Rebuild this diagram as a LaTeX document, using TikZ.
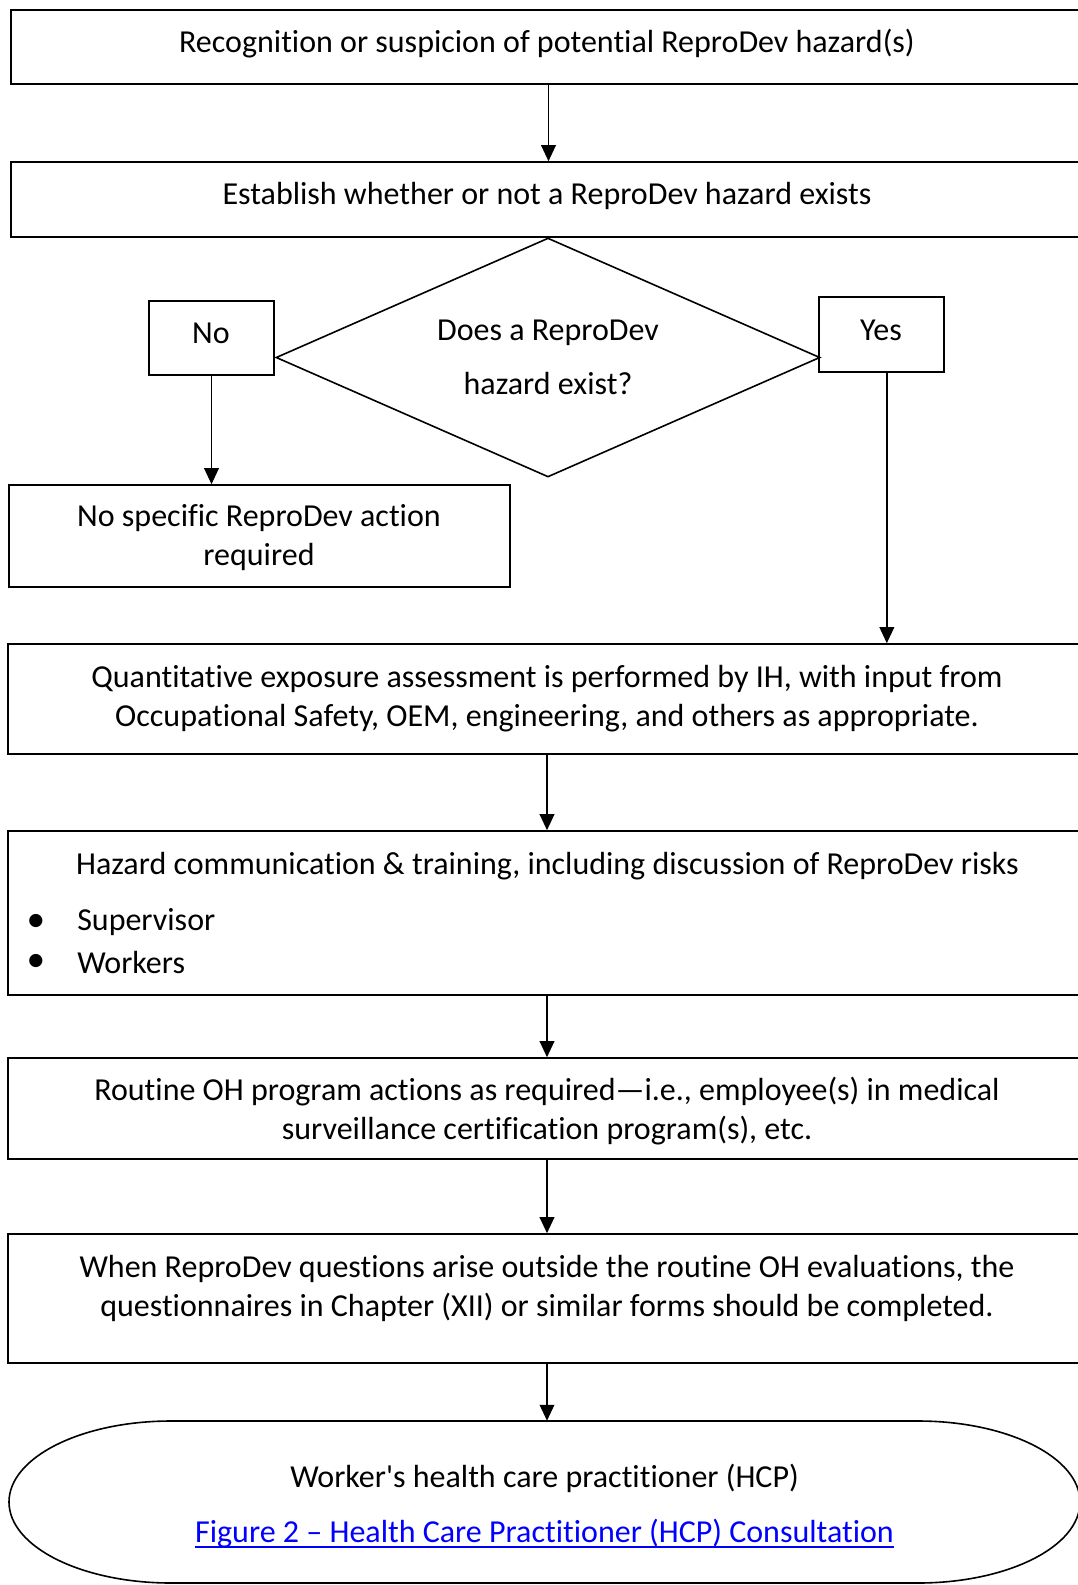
\documentclass[tikz,border=0pt]{standalone}
\usepackage{fontspec}
\setmainfont{Carlito}[Ligatures=NoCommon]
\usepackage{xcolor}
\usetikzlibrary{arrows.meta}
\usetikzlibrary{shapes.geometric}
\definecolor{linkblue}{RGB}{0,0,255}
\newcommand{\flowfont}{\fontsize{24}{29.25}\selectfont}
\newsavebox{\linkbox}
\newcommand{\linkline}[1]{\sbox{\linkbox}{#1}\rlap{\rule[-4.5pt]{\wd\linkbox}{2pt}}\usebox{\linkbox}}

\begin{document}
\begin{tikzpicture}[x=0.75pt, y=-0.75pt,
  frame/.style={draw, line width=1.2pt, inner sep=0pt},
  txt/.style={font=\flowfont, align=center, inner sep=0pt},
  flow/.style={-{Triangle[length=12pt,width=11pt]}, line width=1.1pt}]
\useasboundingbox (0,0) rectangle (1078,1585);
\clip (0,0) rectangle (1078,1585);

% frames
\node[frame, minimum width=806.25pt, minimum height=55.5pt] (recog) at (548.5,47) {};
\node[frame, minimum width=806.25pt, minimum height=56.25pt] (estab) at (548.5,199.5) {};
\node[frame, diamond, aspect=2.28, minimum width=408pt, minimum height=179.25pt, font=\flowfont, align=center]
  (q) at (548,357.5) {Does a ReproDev\\[11.25pt]hazard exist?};
\node[frame, minimum width=93.75pt, minimum height=55.5pt] (no) at (211.5,338) {};
\node[frame, minimum width=93.75pt, minimum height=56.25pt] (yes) at (881.5,334.5) {};
\node[frame, minimum width=375.75pt, minimum height=76.5pt] (noact) at (259.5,536) {};
\node[frame, minimum width=808.5pt, minimum height=82.5pt] (quant) at (547,699) {};
\node[frame, minimum width=808.5pt, minimum height=123pt] (comm) at (547,913) {};
\node[frame, minimum width=808.5pt, minimum height=75.75pt] (routine) at (547,1108.5) {};
\node[frame, minimum width=808.5pt, minimum height=96.75pt] (when) at (547,1298.5) {};
\node[minimum width=803.25pt, minimum height=121.5pt, inner sep=0pt] (hcp) at (544.5,1502) {};
\draw[line width=1.2pt] (171,1421) -- (918,1421)
  arc[start angle=90, end angle=-90, x radius=121.5pt, y radius=60.75pt] -- (171,1583)
  arc[start angle=270, end angle=90, x radius=121.5pt, y radius=60.75pt] -- cycle;

% texts
\node[txt] (recog-t) at (547,44) {Recognition or suspicion of potential ReproDev hazard(s)};
\node[txt] (estab-t) at (547,195.5) {Establish whether or not a ReproDev hazard exists};
\node[txt] (no-t) at (211,333) {No};
\node[txt] (yes-t) at (881,330) {Yes};
\node[txt] (noact-t) at (259,538) {No specific ReproDev action\\required};
\node[txt] (quant-t) at (547,698.5) {Quantitative exposure assessment is performed by IH, with input from\\
  Occupational Safety, OEM, engineering, and others as appropriate.};
\node[txt] (comm-t) at (547.5,866) {Hazard communication \& training, including discussion of ReproDev risks};
\foreach \name/\ypos in {Supervisor/922, Workers/962}{
  \node[txt] (dot-\name) at (36,\ypos+1) {\fontsize{28}{28}\selectfont\textbullet};
  \node[txt, anchor=west] (item-\name) at (77,\ypos) {\name};
}
\node[txt] (routine-t) at (547,1111.5) {Routine OH program actions as required—i.e., employee(s) in medical\\
  surveillance certification program(s), etc.};
\node[txt] (when-t) at (547,1288.5) {When ReproDev questions arise outside the routine OH evaluations, the\\
  questionnaires in Chapter (XII) or similar forms should be completed.};
\node[txt] (hcp-t) at (544.5,1506) {Worker\textquotesingle s health care practitioner (HCP)\\[12pt]
  \textcolor{linkblue}{\linkline{Figure 2 – Health Care Practitioner (HCP) Consultation}}};

% connectors
\draw[flow] (recog) -- (estab);
\draw[flow] (no.south) -- (no.south |- noact.north);
\draw[flow] ([xshift=4pt]yes.south) -- ([xshift=4pt]yes.south |- quant.north);
\draw[flow] (quant) -- (comm);
\draw[flow] (comm) -- (routine);
\draw[flow] (routine) -- (when);
\draw[flow] (when.south) -- (when.south |- hcp.north);
\end{tikzpicture}
\end{document}
